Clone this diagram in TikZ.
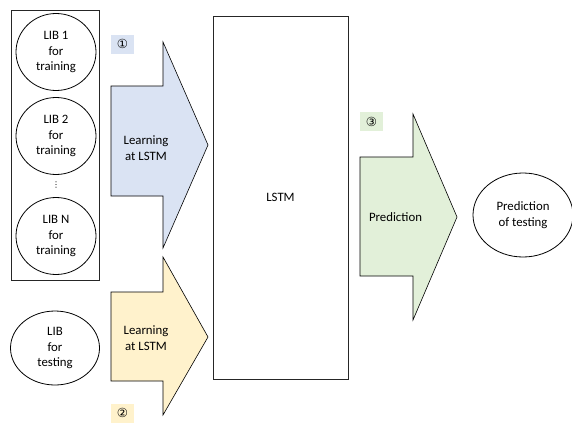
\documentclass[tikz,border=0pt]{standalone}
\usepackage{fontspec}
\setmainfont{Carlito}
\newfontfamily\symfont{DejaVu Sans}
\usetikzlibrary{shapes.geometric}
\definecolor{bluefill}{HTML}{DAE3F3}
\definecolor{yellowfill}{HTML}{FFF2CC}
\definecolor{greenfill}{HTML}{E2F0D9}
\tikzset{
  lbl/.style={font=\fontsize{12.8}{15.5}\selectfont, align=center, inner sep=0pt},
  lib/.style={ellipse, draw=black, line width=0.8pt, inner sep=0pt, lbl},
  bigarrow/.style={draw=black, line width=0.6pt},
  numbox/.style={minimum width=23pt, minimum height=19pt, inner sep=0pt, font=\symfont\fontsize{12.5}{14}\selectfont},
  frame/.style={draw=black!85, line width=1pt}
}
\begin{document}
\begin{tikzpicture}[x=1pt,y=-1pt]
\useasboundingbox (0,0) rectangle (572,423);
% left group frame
\node[frame, minimum width=88pt, minimum height=270pt, inner sep=0pt] (group) at (55,145) {};
\node[lib, minimum width=80pt, minimum height=77pt] (lib1) at (56,52) {LIB 1\\for\\training};
\node[lib, minimum width=80pt, minimum height=77pt] (lib2) at (56,136) {LIB 2\\for\\training};
\node[font=\symfont\fontsize{8}{8}\selectfont, inner sep=0pt] (dots) at (56,185) {⋮};
\node[lib, minimum width=80pt, minimum height=77pt] (libn) at (56,236) {LIB N\\for\\training};
\node[lib, minimum width=89pt, minimum height=74pt] (libt) at (55,348) {LIB\\for\\testing};
% LSTM
\node[frame, minimum width=135pt, minimum height=363pt, inner sep=0pt] (lstm) at (280.5,197.5) {};
\node[lbl] (lstmtext) at (lstm.center) {LSTM};
% blue arrow
\draw[bigarrow, fill=bluefill] (111,86) -- (163,86) -- (163,42) -- (208,145) -- (163,248) -- (163,196) -- (111,196) -- cycle;
\node[lbl] (learn1) at (146,148) {Learning\\at LSTM};
\node[numbox, fill=bluefill] (n1) at (122.5,44) {①};
% yellow arrow
\draw[bigarrow, fill=yellowfill] (111,292) -- (163,292) -- (163,257) -- (208,337) -- (163,415) -- (163,381) -- (111,381) -- cycle;
\node[lbl] (learn2) at (146,338) {Learning\\at LSTM};
\node[numbox, fill=yellowfill] (n2) at (122.5,413) {②};
% green arrow
\draw[bigarrow, fill=greenfill] (360,157) -- (413,157) -- (413,114) -- (457,217) -- (413,320) -- (413,276) -- (360,276) -- cycle;
\node[lbl] (pred) at (395.5,217) {Prediction};
\node[numbox, fill=greenfill] (n3) at (371.5,121.5) {③};
% output ellipse
\node[lib, minimum width=100pt, minimum height=84pt] (out) at (523,215) {Prediction\\of testing};
\end{tikzpicture}
\end{document}
